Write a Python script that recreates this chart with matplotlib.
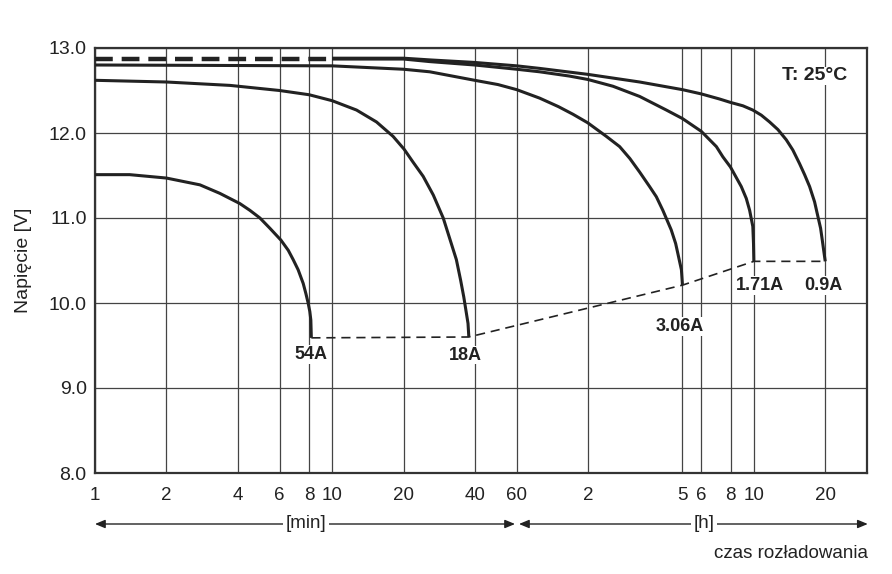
import matplotlib
matplotlib.use("Agg")
import matplotlib.pyplot as plt
from matplotlib.ticker import FixedLocator, FixedFormatter, NullLocator

plt.rcParams['font.family'] = ['Liberation Sans', 'DejaVu Sans']

# ---------------- data (time in minutes, voltage in V) ----------------
t_54A = [1, 1.4, 2, 2.77, 3.36, 4.08, 4.50, 4.96, 5.46, 6.08, 6.53, 6.85, 7.19, 7.55, 7.75, 7.92, 8.05, 8.13, 8.17]
v_54A = [11.51, 11.51, 11.47, 11.39, 11.29, 11.17, 11.09, 11.00, 10.88, 10.74, 10.62, 10.51, 10.39, 10.23, 10.11, 10.00, 9.90, 9.80, 9.59]

t_18A = [1, 2, 3.71, 6, 8, 10, 12.67, 15.38, 18.07, 20.1, 21.9, 24.2, 26.7, 29.4, 31.3, 33.4, 34.8, 35.9, 37.4, 37.7]
v_18A = [12.62, 12.60, 12.56, 12.50, 12.45, 12.38, 12.27, 12.13, 11.96, 11.81, 11.66, 11.49, 11.27, 11.00, 10.76, 10.51, 10.27, 10.07, 9.76, 9.60]

t_306A = [1, 10, 20, 25.8, 39.9, 50, 60, 75, 90, 103.7, 119.6, 143.3, 163, 180, 198, 218, 232.8, 248, 269, 280.8, 287, 297, 300]
v_306A = [12.80, 12.79, 12.75, 12.72, 12.62, 12.57, 12.51, 12.41, 12.31, 12.22, 12.12, 11.96, 11.84, 11.70, 11.54, 11.37, 11.25, 11.09, 10.86, 10.70, 10.58, 10.39, 10.21]

t_171A = [10, 20, 25.8, 39.9, 60, 75, 100, 119.6, 152.8, 198, 256.6, 300, 360, 417, 444, 478, 531, 557.5, 576, 594, 598, 600]
v_171A = [12.87, 12.87, 12.84, 12.80, 12.75, 12.72, 12.67, 12.63, 12.55, 12.43, 12.27, 12.17, 12.02, 11.84, 11.72, 11.60, 11.37, 11.23, 11.09, 10.90, 10.70, 10.49]

t_09A = [10, 20, 25.8, 39.9, 60, 75, 119.6, 198, 300, 360, 430, 478, 539.5, 594, 645, 699, 758, 822, 876, 935, 982, 1031, 1082, 1117, 1147, 1166, 1182, 1200]
v_09A = [12.88, 12.88, 12.86, 12.83, 12.79, 12.76, 12.69, 12.60, 12.51, 12.46, 12.40, 12.36, 12.32, 12.27, 12.21, 12.13, 12.04, 11.92, 11.80, 11.64, 11.51, 11.37, 11.19, 11.02, 10.88, 10.74, 10.62, 10.49]

# common starting section of the low-current curves (drawn dashed)
t_start = [1, 10]
v_start = [12.87, 12.87]

# end-of-discharge voltage line
t_end = [8.17, 37.7, 300, 600, 1200]
v_end = [9.59, 9.60, 10.21, 10.49, 10.49]

labels = ['54A', '18A', '3.06A', '1.71A', '0.9A']

x_ticks = [1, 2, 4, 6, 8, 10, 20, 40, 60, 120, 300, 360, 480, 600, 1200]
x_ticklabels = ['1', '2', '4', '6', '8', '10', '20', '40', '60', '2', '5', '6', '8', '10', '20']
y_ticks = [8.0, 9.0, 10.0, 11.0, 12.0, 13.0]

# ---------------- figure ----------------
fig = plt.figure(figsize=(8.92, 5.74), dpi=100)
ax = fig.add_axes([95/892, 1-473/574, 772/892, 425/574])
ax.set_xscale('log')
ax.set_xlim(1, 1800)
ax.set_ylim(8.0, 13.0)

ax.xaxis.set_major_locator(FixedLocator(x_ticks))
ax.xaxis.set_major_formatter(FixedFormatter(x_ticklabels))
ax.xaxis.set_minor_locator(NullLocator())
ax.set_yticks(y_ticks)
ax.set_yticklabels([f'{v:.1f}' for v in y_ticks])
ax.tick_params(axis='x', length=0, pad=10, labelsize=13.5, colors='#222222')
ax.tick_params(axis='y', length=0, pad=6, labelsize=14, colors='#222222')

ax.grid(True, which='major', color='#444444', lw=0.9)
ax.set_axisbelow(True)
for s in ax.spines.values():
    s.set_color('#333333')
    s.set_linewidth(1.6)

ax.set_ylabel('Napięcie [V]', fontsize=14, color='#222222', labelpad=12)

curve_kw = dict(color='#222222', lw=2.2, solid_capstyle='butt', solid_joinstyle='round', zorder=3)
for t, v in [(t_54A, v_54A), (t_18A, v_18A), (t_306A, v_306A), (t_171A, v_171A), (t_09A, v_09A)]:
    ax.plot(t, v, **curve_kw)

ax.plot(t_start, v_start, color='#222222', lw=3.2, dashes=(4, 2), zorder=3)
ax.plot(t_end, v_end, color='#222222', lw=1.2, dashes=(5.5, 3.5), zorder=3)

# current labels below end points
ends = [(t_54A[-1], v_54A[-1]), (t_18A[-1], v_18A[-1]), (t_306A[-1], v_306A[-1]),
        (t_171A[-1], v_171A[-1]), (t_09A[-1], v_09A[-1])]
offsets = [(0, -17), (-3, -18), (-3, -41), (6, -24), (-2, -24)]
for lab, (x, y), off in zip(labels, ends, offsets):
    ax.annotate(lab, (x, y), xytext=off, textcoords='offset pixels',
                ha='center', va='center', fontsize=13, fontweight='bold',
                color='#222222', zorder=4,
                bbox=dict(boxstyle='square,pad=0.05', fc='white', ec='none'))

ax.text(847/892, 1-76/574, 'T: 25°C', transform=fig.transFigure, ha='right', va='center',
        fontsize=14, fontweight='bold', color='#222222',
        bbox=dict(boxstyle='square,pad=0.05', fc='white', ec='none'))

# time unit arrows below the axis
arr_y = (473-524)/425
ar = dict(arrowstyle='<|-|>,head_length=0.6,head_width=0.25', color='#222222', lw=1.0,
          shrinkA=0, shrinkB=0)
ax.annotate('', xy=(0.0, arr_y), xytext=((515-95)/772, arr_y), xycoords='axes fraction',
            textcoords='axes fraction', arrowprops=ar, annotation_clip=False)
ax.annotate('', xy=((519-95)/772, arr_y), xytext=(1.001, arr_y), xycoords='axes fraction',
            textcoords='axes fraction', arrowprops=ar, annotation_clip=False)
ax.text((306-95)/772, arr_y, '[min]', transform=ax.transAxes, ha='center', va='center',
        fontsize=13.5, color='#222222', bbox=dict(boxstyle='square,pad=0.15', fc='white', ec='none'))
ax.text((704-95)/772, arr_y, '[h]', transform=ax.transAxes, ha='center', va='center',
        fontsize=13.5, color='#222222', bbox=dict(boxstyle='square,pad=0.15', fc='white', ec='none'))
ax.text(1.001, (473-553)/425, 'czas rozładowania', transform=ax.transAxes, ha='right', va='center',
        fontsize=13.5, color='#222222')

fig.savefig('out.png', dpi=100)
